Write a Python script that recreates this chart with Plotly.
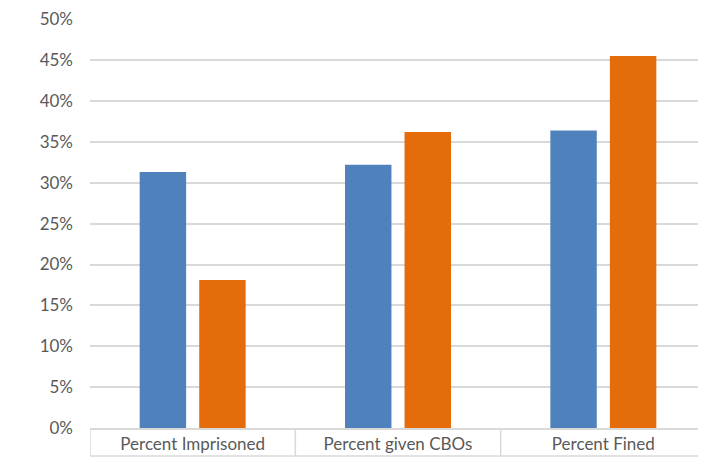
import plotly.graph_objects as go

categories = ["Percent Imprisoned", "Percent given CBOs", "Percent Fined"]
series_a = [0.313, 0.322, 0.364]
series_b = [0.181, 0.362, 0.455]
tick_vals = [0, 0.05, 0.10, 0.15, 0.20, 0.25, 0.30, 0.35, 0.40, 0.45, 0.50]
tick_text = ["0%", "5%", "10%", "15%", "20%", "25%", "30%", "35%", "40%", "45%", "50%"]

BLUE = "#4F81BD"
ORANGE = "#E46C0A"
GRID = "#D9D9D9"
TEXT = "#595959"
FONT = "Lato"

PLOT_H = 409

fig = go.Figure()
fig.add_trace(go.Bar(x=list(range(len(categories))), y=series_a, marker=dict(color=BLUE, line=dict(width=0))))
fig.add_trace(go.Bar(x=list(range(len(categories))), y=series_b, marker=dict(color=ORANGE, line=dict(width=0))))

shapes = []
n = len(categories)
for i in range(n + 1):
    shapes.append(dict(type="line", xref="x", yref="paper", x0=i - 0.5, x1=i - 0.5,
                       y0=0, y1=-28 / PLOT_H, line=dict(color=GRID, width=1.5)))
shapes.append(dict(type="line", xref="x", yref="paper", x0=-0.5, x1=n - 0.5,
                   y0=-28 / PLOT_H, y1=-28 / PLOT_H, line=dict(color=GRID, width=1.5)))

fig.update_layout(
    width=698, height=450,
    margin=dict(l=82, r=0, t=11, b=30),
    paper_bgcolor="white", plot_bgcolor="white",
    barmode="group", bargap=0.42, bargroupgap=0.22,
    showlegend=False,
    font=dict(family=FONT, size=17, color=TEXT),
    shapes=shapes,
    xaxis=dict(
        tickmode="array", tickvals=list(range(n)), ticktext=categories,
        range=[-0.5, n - 0.5], showgrid=False, zeroline=False,
        showline=True, linecolor=GRID, linewidth=1.5,
        ticks="", tickfont=dict(family=FONT, size=17, color=TEXT),
    ),
    yaxis=dict(
        range=[0, 0.5003], tickmode="array", tickvals=tick_vals, ticktext=tick_text,
        showgrid=True, gridcolor=GRID, gridwidth=1.5, zeroline=False,
        showline=False, ticks="", ticklabelstandoff=16,
        tickfont=dict(family=FONT, size=17, color=TEXT),
    ),
)

fig.write_html("out.html")
